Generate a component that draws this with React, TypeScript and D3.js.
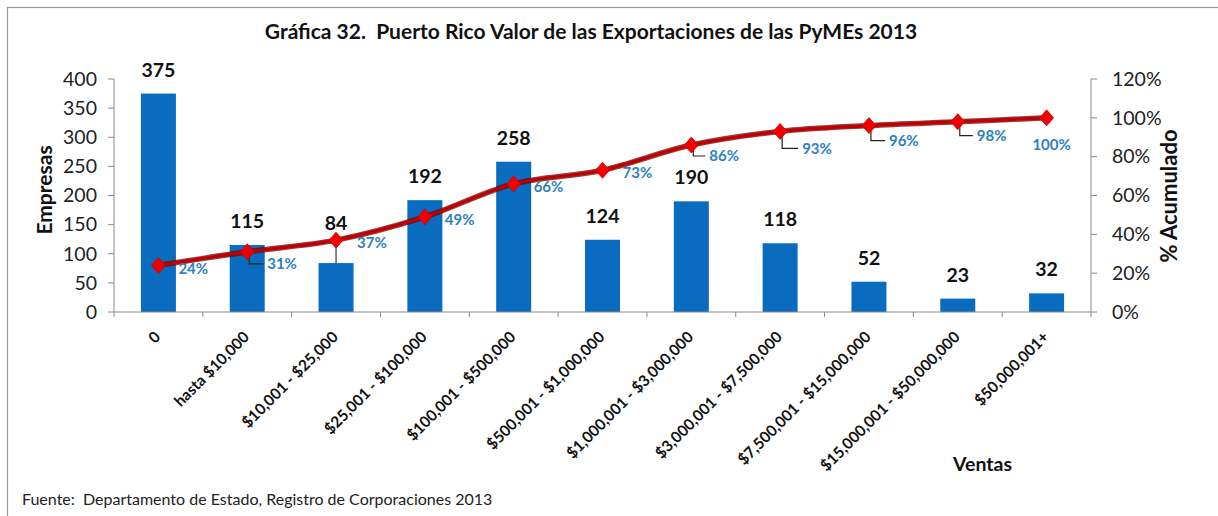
import React from "react";
import * as d3 from "d3";

const categories = [
  "0",
  "hasta $10,000",
  "$10,001 - $25,000",
  "$25,001 - $100,000",
  "$100,001 - $500,000",
  "$500,001 - $1,000,000",
  "$1,000,001 - $3,000,000",
  "$3,000,001 - $7,500,000",
  "$7,500,001 - $15,000,000",
  "$15,000,001 - $50,000,000",
  "$50,000,001+",
];
const empresas = [375, 115, 84, 192, 258, 124, 190, 118, 52, 23, 32];
const acumulado = [24, 31, 37, 49, 66, 73, 86, 93, 96, 98, 100];
const leftTicks = [0, 50, 100, 150, 200, 250, 300, 350, 400];
const rightTicks = [0, 20, 40, 60, 80, 100, 120];

const title = "Gráfica 32.  Puerto Rico Valor de las Exportaciones de las PyMEs 2013";
const source = "Fuente:  Departamento de Estado, Registro de Corporaciones 2013";

// label placement (style): offsets of % labels from their points
const pctLabelDx = [20, 20, 21, 20, 20, 20, 18, 22, 20, 19, 5];
const pctLabelDy = [3, 12, 3, 3, 3, 2, 11, 17, 15, 14, 27];
const pctLeader = [false, true, false, false, false, false, true, true, true, true, false];
const barLabelLift = [0, 0, 16, 0, 0, 0, 0, 0, 0, 0, 0];

const FONT = "Lato, 'Open Sans', sans-serif";

export default function App() {
  const W = 1218;
  const H = 516;
  const left = 114;
  const right = 1091;
  const top = 79;
  const bottom = 312;

  const x = d3.scaleBand<string>().domain(categories).range([left, right]).padding(0);
  const yL = d3.scaleLinear().domain([0, 400]).range([bottom, top]);
  const yR = d3.scaleLinear().domain([0, 120]).range([bottom, top]);
  const bw = x.bandwidth();
  const barW = bw * 0.394;
  const cx = (c: string) => (x(c) as number) + bw / 2;

  const pts: [number, number][] = categories.map((c, i) => [cx(c), yR(acumulado[i])]);
  const lineGen = d3.line().curve(d3.curveCatmullRom.alpha(0.5));
  const linePath = lineGen(pts) || "";

  const tickBounds = d3.range(categories.length + 1).map((i) => left + i * bw);

  return (
    <svg
      width={W}
      height={H}
      style={{ position: "absolute", left: 0, top: 0, background: "#fff" }}
      fontFamily={FONT}
    >
      <rect x={0} y={0} width={W} height={H} fill="#fff" />
      <rect x={7.5} y={7.5} width={1300} height={700} fill="none" stroke="#9a9a9a" strokeWidth={1.2} />

      {/* title */}
      <text
        x={591}
        y={39}
        textAnchor="middle"
        fontWeight="bold"
        fontSize={21}
        fill="#111"
        style={{ whiteSpace: "pre" }}
      >
        {title}
      </text>

      {/* bars */}
      {categories.map((c, i) => (
        <rect
          key={"b" + i}
          x={cx(c) - barW / 2}
          y={yL(empresas[i])}
          width={barW}
          height={bottom - yL(empresas[i])}
          fill="#0A6CBF"
        />
      ))}

      {/* axes */}
      <line x1={left} x2={left} y1={top} y2={bottom} stroke="#8a8a8a" strokeWidth={1} />
      <line x1={right} x2={right} y1={top} y2={bottom} stroke="#8a8a8a" strokeWidth={1} />
      <line x1={left} x2={right} y1={bottom} y2={bottom} stroke="#8a8a8a" strokeWidth={1.2} />
      {leftTicks.map((t) => (
        <g key={"lt" + t}>
          <line x1={left - 6} x2={left} y1={yL(t)} y2={yL(t)} stroke="#8a8a8a" />
          <text x={97} y={yL(t)} dy="0.35em" textAnchor="end" fontSize={19.5} fill="#222">
            {t}
          </text>
        </g>
      ))}
      {rightTicks.map((t) => (
        <g key={"rt" + t}>
          <line x1={right} x2={right + 6} y1={yR(t)} y2={yR(t)} stroke="#8a8a8a" />
          <text x={1112} y={yR(t)} dy="0.35em" textAnchor="start" fontSize={19.5} fill="#222">
            {t + "%"}
          </text>
        </g>
      ))}
      {tickBounds.map((tx, i) => (
        <line key={"xt" + i} x1={tx} x2={tx} y1={bottom} y2={bottom + 5} stroke="#8a8a8a" />
      ))}

      {/* x labels */}
      {categories.map((c, i) => (
        <text
          key={"xl" + i}
          transform={`translate(${cx(c) + 3},${338}) rotate(-45)`}
          textAnchor="end"
          fontWeight="bold"
          fontSize={15.5}
          fill="#111"
        >
          {c}
        </text>
      ))}

      {/* bar value labels */}
      {categories.map((c, i) => (
        <text
          key={"bv" + i}
          x={cx(c)}
          y={yL(empresas[i]) - 17 - barLabelLift[i]}
          textAnchor="middle"
          fontWeight="bold"
          fontSize={19.5}
          fill="#111"
        >
          {empresas[i]}
        </text>
      ))}
      {categories.map((c, i) =>
        barLabelLift[i] > 0 ? (
          <line
            key={"bvl" + i}
            x1={cx(c)}
            x2={cx(c)}
            y1={yL(empresas[i]) - barLabelLift[i] - 1}
            y2={yL(empresas[i])}
            stroke="#111"
            strokeWidth={1}
          />
        ) : null
      )}

      {/* leader lines for % labels */}
      {pts.map((p, i) =>
        pctLeader[i] ? (
          <path
            key={"ld" + i}
            d={`M${p[0] + 2},${p[1] + 5}V${p[1] + pctLabelDy[i]}H${p[0] + pctLabelDx[i] - 4}`}
            fill="none"
            stroke="#222"
            strokeWidth={1.2}
          />
        ) : null
      )}

      {/* cumulative line */}
      <path d={linePath} fill="none" stroke="#6e0000" strokeWidth={5.5} strokeOpacity={0.75} />
      <path d={linePath} fill="none" stroke="#C00000" strokeWidth={3.2} />
      {pts.map((p, i) => (
        <path
          key={"m" + i}
          d={`M${p[0]},${p[1] - 8}L${p[0] + 7},${p[1]}L${p[0]},${p[1] + 8}L${p[0] - 7},${p[1]}Z`}
          fill="#F00000"
          stroke="#d00000"
          strokeWidth={0.8}
        />
      ))}

      {/* % labels */}
      {pts.map((p, i) => (
        <text
          key={"pl" + i}
          x={p[0] + pctLabelDx[i]}
          y={p[1] + pctLabelDy[i]}
          dy="0.35em"
          textAnchor={i === pts.length - 1 ? "middle" : "start"}
          fontWeight="bold"
          fontSize={15}
          fill="#2F80C0"
        >
          {acumulado[i] + "%"}
        </text>
      ))}

      {/* axis titles */}
      <text
        transform={`translate(52,190) rotate(-90)`}
        textAnchor="middle"
        fontWeight="bold"
        fontSize={21}
        fill="#111"
      >
        Empresas
      </text>
      <text
        transform={`translate(1177,196) rotate(-90)`}
        textAnchor="middle"
        fontWeight="bold"
        fontSize={22}
        fill="#111"
      >
        % Acumulado
      </text>
      <text x={953} y={471} fontWeight="bold" fontSize={19.5} fill="#111">
        Ventas
      </text>

      {/* source */}
      <text x={22} y={505} fontSize={16} fill="#222" style={{ whiteSpace: "pre" }}>
        {source}
      </text>
    </svg>
  );
}
